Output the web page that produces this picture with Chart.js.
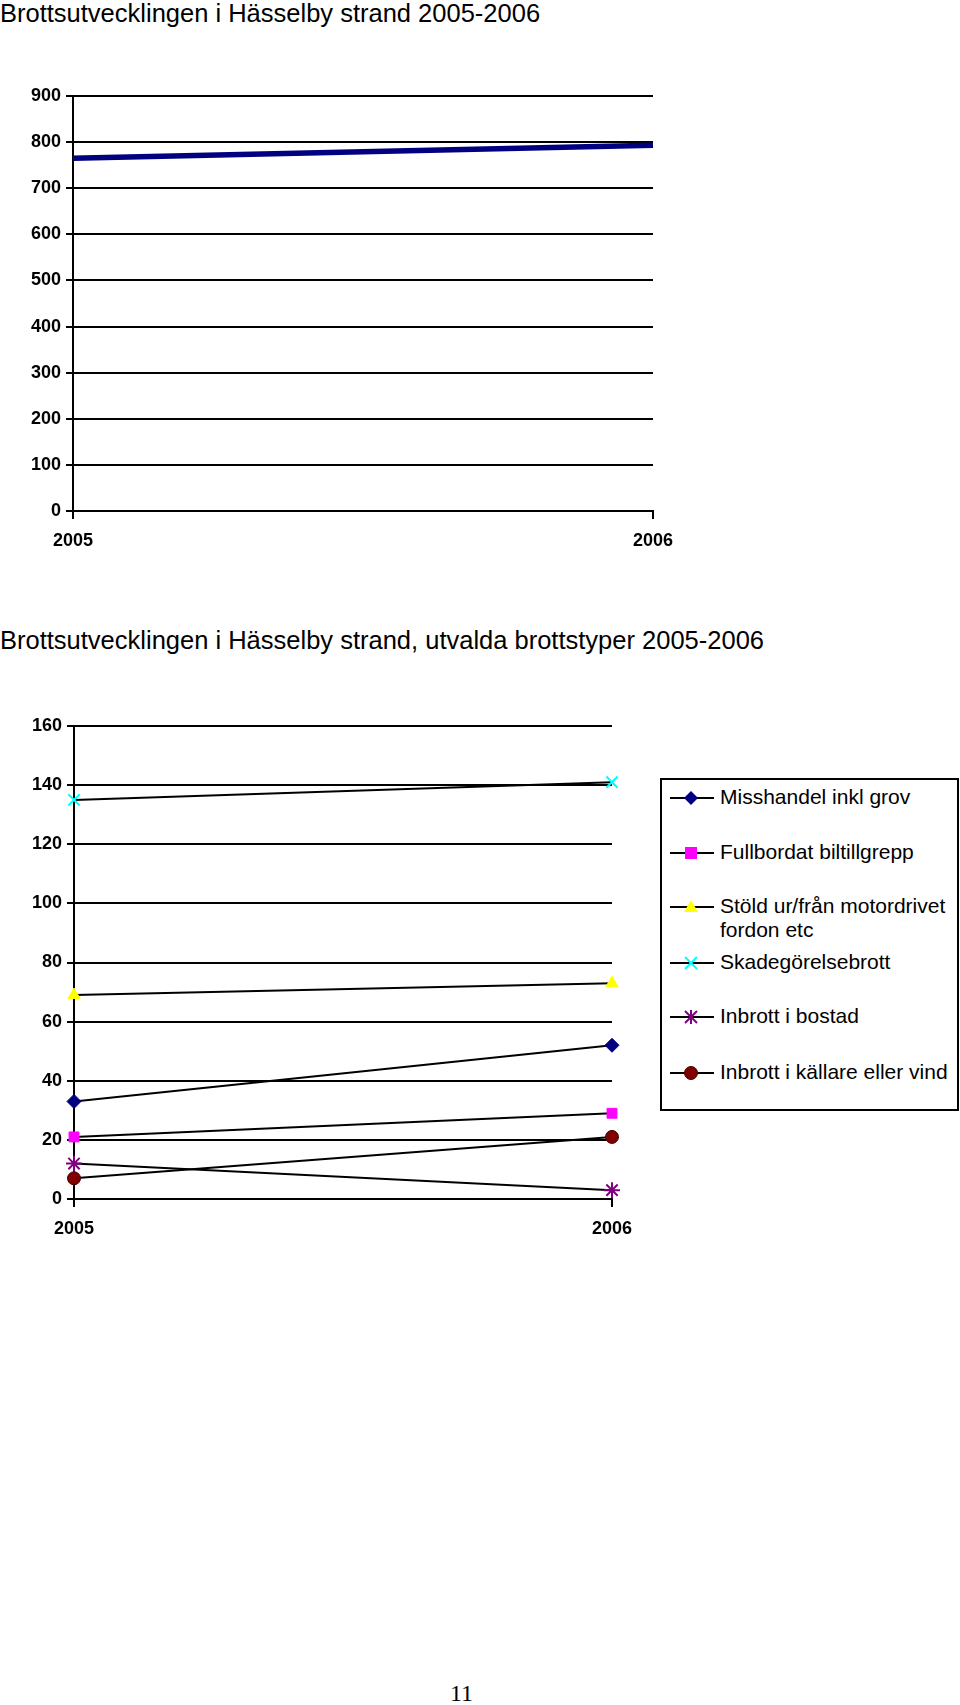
<!DOCTYPE html>
<html>
<head>
<meta charset="utf-8">
<script src="https://cdn.jsdelivr.net/npm/chart.js@4/dist/chart.umd.min.js"></script>
<style>
  html, body { margin: 0; padding: 0; background: #fff; }
  body { width: 960px; height: 1705px; position: relative; overflow: hidden; font-family: "Liberation Sans", Arial, sans-serif; }
  .title { position: absolute; left: 0; font-size: 25.5px; color: #000; white-space: nowrap; }
  .wrap { position: absolute; left: 0; }
  #legend { position: absolute; left: 660px; top: 778px; width: 295px; height: 329px; border: 2px solid #000; box-sizing: content-box; }
  .li { position: absolute; left: 0; font-size: 21px; line-height: 24px; color: #000; }
  .li svg { position: absolute; left: 7px; top: 2px; }
  .li span { position: absolute; left: 58px; top: 0; white-space: nowrap; }
  #pg { position: absolute; left: 450px; top: 1680px; font-family: "Liberation Serif", "Times New Roman", serif; font-size: 24px; }
</style>
</head>
<body>
<div class="title" style="top:-1px;">Brottsutvecklingen i Hässelby strand 2005-2006</div>
<div class="wrap" style="top:0px;width:700px;height:570px;"><canvas id="c1" width="700" height="570"></canvas></div>

<div class="title" style="top:626px;">Brottsutvecklingen i Hässelby strand, utvalda brottstyper 2005-2006</div>
<div class="wrap" style="top:600px;width:660px;height:670px;"><canvas id="c2" width="660" height="670"></canvas></div>

<div id="legend"></div>
<div id="pg">11</div>

<script>
// ---- Data ----
const years = ["2005", "2006"];
const totalCrimes = [765, 793];

const misshandel = [33, 52];
const fullbordatBiltillgrepp = [21, 29];
const stoldMotorfordon = [69, 73];
const skadegorelse = [135, 141];
const inbrottBostad = [12, 3];
const inbrottKallare = [7, 21];

const seriesNames = [
  "Misshandel inkl grov",
  "Fullbordat biltillgrepp",
  "Stöld ur/från motordrivet fordon etc",
  "Skadegörelsebrott",
  "Inbrott i bostad",
  "Inbrott i källare eller vind"
];

const tickFont = { family: "Liberation Sans, Arial, sans-serif", size: 18, weight: "bold" };

function axes(maxV, step, yW, xH) {
  return {
    x: {
      type: "category",
      offset: false,
      grid: { display: true, drawOnChartArea: false, color: "#000", lineWidth: 2, tickLength: 8 },
      border: { color: "#000", width: 2 },
      ticks: { color: "#000", font: tickFont, padding: 11, maxRotation: 0 },
      afterFit: s => { s.height = xH; }
    },
    y: {
      min: 0, max: maxV,
      grid: { color: "#000", lineWidth: 2, tickLength: 7 },
      border: { color: "#000", width: 2 },
      ticks: { stepSize: step, color: "#000", font: tickFont, padding: 5 },
      afterFit: s => { s.width = yW; }
    }
  };
}

// ---- Chart 1 ----
new Chart(document.getElementById("c1"), {
  type: "line",
  data: {
    labels: years,
    datasets: [{
      label: "Totalt",
      data: totalCrimes,
      borderColor: "#000080",
      borderWidth: 5.5,
      pointRadius: 0,
      tension: 0,
      fill: false
    }]
  },
  options: {
    responsive: false,
    animation: false,
    layout: { padding: { top: 96, right: 47, left: 3, bottom: 9 } },
    plugins: { legend: { display: false }, tooltip: { enabled: false } },
    scales: axes(900, 100, 70, 50)
  }
});

// ---- Chart 2 ----
const styles = [
  { data: misshandel, pointStyle: "rectRot", color: "#000080", border: "#000080", r: 7, bw: 1 },
  { data: fullbordatBiltillgrepp, pointStyle: "rect", color: "#FF00FF", border: "#FF00FF", r: 7, bw: 1 },
  { data: stoldMotorfordon, pointStyle: "triangle", color: "#FFFF00", border: "#FFFF00", r: 7, bw: 1 },
  { data: skadegorelse, pointStyle: "crossRot", color: "#00FFFF", border: "#00FFFF", r: 8, bw: 2 },
  { data: inbrottBostad, pointStyle: "star", color: "#800080", border: "#800080", r: 8, bw: 2 },
  { data: inbrottKallare, pointStyle: "circle", color: "#800000", border: "#4a0000", r: 6.5, bw: 1 }
];

new Chart(document.getElementById("c2"), {
  type: "line",
  data: {
    labels: years,
    datasets: styles.map((s, i) => ({
      label: seriesNames[i],
      data: s.data,
      borderColor: "#000",
      borderWidth: 2,
      tension: 0,
      fill: false,
      pointStyle: s.pointStyle,
      pointRadius: s.r,
      pointBackgroundColor: s.color,
      pointBorderColor: s.border,
      pointBorderWidth: s.bw,
      clip: false
    }))
  },
  options: {
    responsive: false,
    animation: false,
    layout: { padding: { top: 126, right: 48, left: 4, bottom: 21 } },
    plugins: { legend: { display: false }, tooltip: { enabled: false } },
    scales: axes(160, 20, 70, 50)
  }
});

// ---- Legend (HTML) ----
const legendTops = [5, 60, 114, 170, 224, 280]; // relative to legend box
const leg = document.getElementById("legend");
function markerSvg(s) {
  const cx = 22, cy = 11;
  let m = "";
  if (s.pointStyle === "rectRot") m = `<polygon points="${cx},${cy-7} ${cx+7},${cy} ${cx},${cy+7} ${cx-7},${cy}" fill="${s.color}"/>`;
  else if (s.pointStyle === "rect") m = `<rect x="${cx-6}" y="${cy-6}" width="12" height="12" fill="${s.color}"/>`;
  else if (s.pointStyle === "triangle") m = `<polygon points="${cx},${cy-7} ${cx+7},${cy+5} ${cx-7},${cy+5}" fill="${s.color}"/>`;
  else if (s.pointStyle === "crossRot") m = `<path d="M${cx-6},${cy-6}L${cx+6},${cy+6}M${cx+6},${cy-6}L${cx-6},${cy+6}" stroke="${s.color}" stroke-width="2"/>`;
  else if (s.pointStyle === "star") m = `<path d="M${cx-6},${cy-6}L${cx+6},${cy+6}M${cx+6},${cy-6}L${cx-6},${cy+6}M${cx},${cy-7}L${cx},${cy+7}" stroke="${s.color}" stroke-width="2"/>`;
  else m = `<circle cx="${cx}" cy="${cy}" r="6.5" fill="${s.color}" stroke="${s.border}"/>`;
  return `<svg width="46" height="22"><line x1="1" y1="${cy}" x2="45" y2="${cy}" stroke="#000" stroke-width="2"/>${m}</svg>`;
}
seriesNames.forEach((name, i) => {
  const d = document.createElement("div");
  d.className = "li";
  d.style.top = legendTops[i] + "px";
  const label = i === 2 ? "Stöld ur/från motordrivet<br>fordon etc" : name;
  d.innerHTML = markerSvg(styles[i]) + `<span>${label}</span>`;
  leg.appendChild(d);
});
</script>
</body>
</html>
